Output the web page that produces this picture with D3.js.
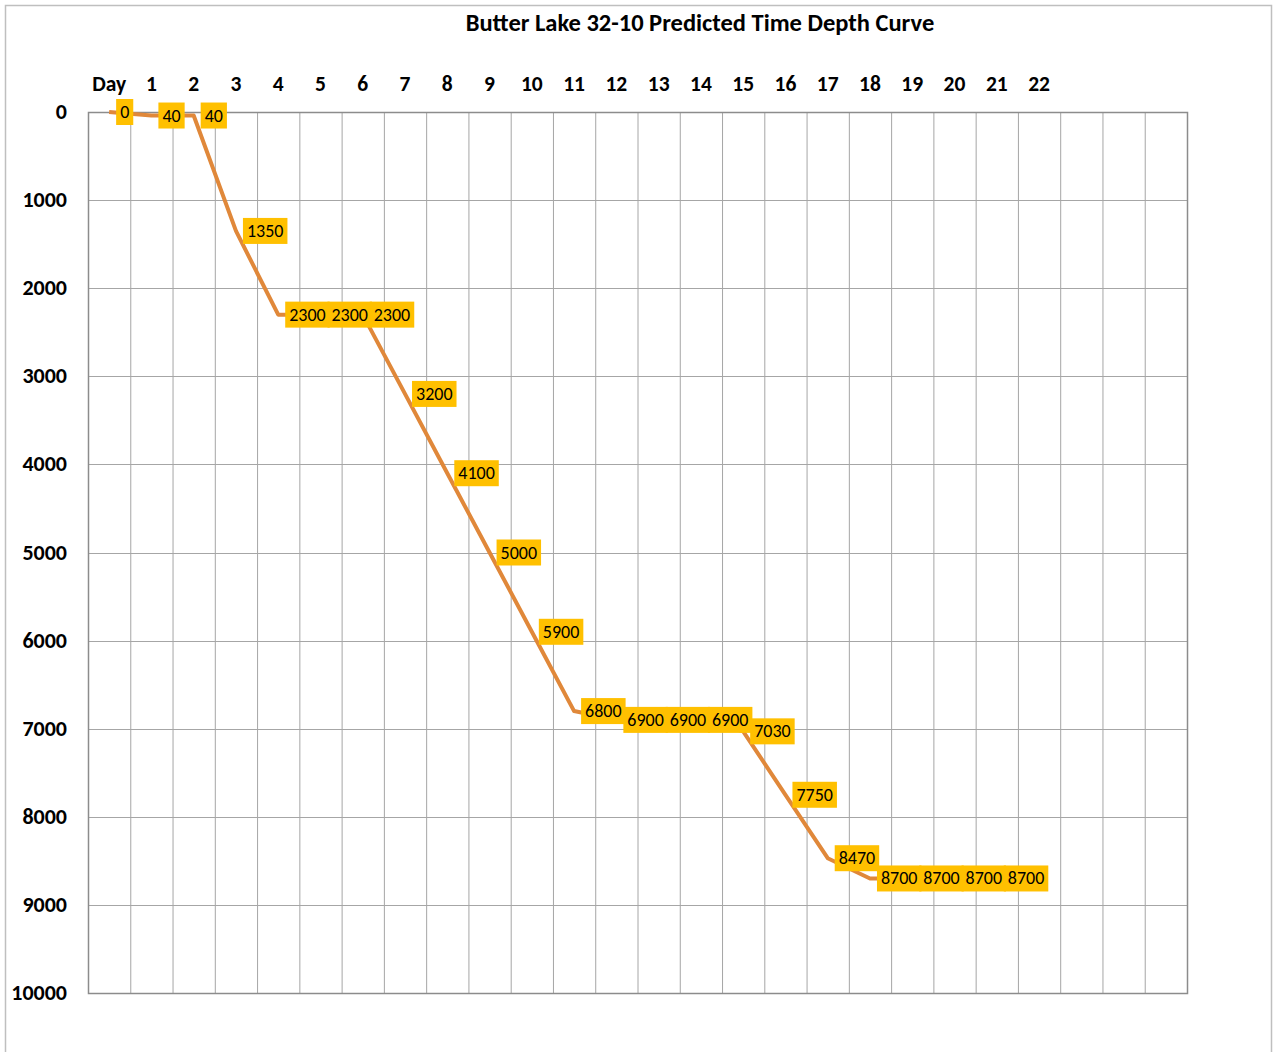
<!DOCTYPE html>
<html>
<head>
<meta charset="utf-8">
<script src="https://cdn.jsdelivr.net/npm/d3@7"></script>
<style>
  body { margin: 0; background: #fff; }
  text { font-family: Calibri, Carlito, 'Liberation Sans', Arial, sans-serif; }
</style>
</head>
<body>
<div class="vis-container"></div>
<script>
// column labels along the top (last four columns are blank)
const X_LABELS = ['Day', '1', '2', '3', '4', '5', '6', '7', '8', '9', '10', '11',
  '12', '13', '14', '15', '16', '17', '18', '19', '20', '21', '22', '', '', '', ''];
// predicted depth for each column, starting at "Day"
const DEPTHS = [0, 40, 40, 1350, 2300, 2300, 2300, 3200, 4100, 5000, 5900, 6800,
  6900, 6900, 6900, 7030, 7750, 8470, 8700, 8700, 8700, 8700];
const Y_TICKS = [0, 1000, 2000, 3000, 4000, 5000, 6000, 7000, 8000, 9000, 10000];

document.addEventListener('DOMContentLoaded', () => {
  buildChart();
});

function buildChart() {
  const width = 1273;
  const height = 1052;
  const plot = {left: 88, top: 112, right: 1187, bottom: 993};
  const cols = X_LABELS.length - 1;

  const svg = d3.select('.vis-container').append('svg')
    .attr('width', width)
    .attr('height', height);

  // outer chart border
  svg.append('rect')
    .attr('x', 5.5)
    .attr('y', 5.5)
    .attr('width', 1266)
    .attr('height', 1060)
    .attr('fill', '#fff')
    .attr('stroke', '#bfbfbf')
    .attr('stroke-width', 1.5);

  svg.append('text')
    .attr('x', 700)
    .attr('y', 31)
    .attr('text-anchor', 'middle')
    .attr('font-size', 24.5)
    .attr('font-weight', 'bold')
    .text('Butter Lake 32-10 Predicted Time Depth Curve');

  const x = d3.scaleBand()
    .domain(d3.range(cols))
    .range([plot.left, plot.right]);
  const y = d3.scaleLinear()
    .domain([0, 10000])
    .range([plot.top, plot.bottom]);

  // grid
  const grid = svg.append('g').attr('class', 'grid');
  grid.selectAll('.vgrid').data(d3.range(cols + 1))
    .enter().append('line')
      .attr('class', 'vgrid')
      .attr('x1', i => (i < cols ? x(i) : plot.right) + 0.5)
      .attr('x2', i => (i < cols ? x(i) : plot.right) + 0.5)
      .attr('y1', plot.top)
      .attr('y2', plot.bottom)
      .attr('stroke', '#a6a6a6')
      .attr('stroke-width', 1);
  grid.selectAll('.hgrid').data(Y_TICKS)
    .enter().append('line')
      .attr('class', 'hgrid')
      .attr('x1', plot.left)
      .attr('x2', plot.right)
      .attr('y1', d => Math.round(y(d)) + 0.5)
      .attr('y2', d => Math.round(y(d)) + 0.5)
      .attr('stroke', '#a6a6a6')
      .attr('stroke-width', 1);
  svg.append('rect')
    .attr('x', plot.left + 0.5)
    .attr('y', plot.top + 0.5)
    .attr('width', plot.right - plot.left)
    .attr('height', plot.bottom - plot.top)
    .attr('fill', 'none')
    .attr('stroke', '#8c8c8c')
    .attr('stroke-width', 1.5);

  // axes labels
  svg.selectAll('.x-label').data(X_LABELS.slice(0, cols))
    .enter().append('text')
      .attr('class', 'x-label')
      .attr('x', (d, i) => x(i) + x.bandwidth() / 2)
      .attr('y', 91)
      .attr('text-anchor', 'middle')
      .attr('font-size', 21.5)
      .attr('font-weight', 'bold')
      .text(d => d);
  svg.selectAll('.y-label').data(Y_TICKS)
    .enter().append('text')
      .attr('class', 'y-label')
      .attr('x', 67)
      .attr('y', d => y(d) + 7)
      .attr('text-anchor', 'end')
      .attr('font-size', 22)
      .attr('font-weight', 'bold')
      .text(d => d);

  const cx = i => x(i) + x.bandwidth() / 2;

  const line = d3.line()
    .x((d, i) => cx(i))
    .y(d => y(d));
  svg.append('path')
    .datum(DEPTHS)
    .attr('d', line)
    .attr('fill', 'none')
    .attr('stroke', '#e0883a')
    .attr('stroke-width', 4)
    .attr('stroke-linejoin', 'round');

  // data labels
  const labels = svg.selectAll('.data-label').data(DEPTHS)
    .enter().append('g')
      .attr('class', 'data-label')
      .attr('transform', (d, i) => `translate(${cx(i) + 7}, ${y(d)})`);
  labels.append('rect')
    .attr('y', -13)
    .attr('height', 26)
    .attr('fill', '#ffc000');
  labels.append('text')
    .attr('x', 4)
    .attr('y', 6)
    .attr('font-size', 18)
    .attr('fill', '#000')
    .text(d => d);
  labels.each(function () {
    const g = d3.select(this);
    const w = g.select('text').node().getComputedTextLength();
    g.select('rect').attr('width', w + 8);
  });
}
</script>
</body>
</html>
